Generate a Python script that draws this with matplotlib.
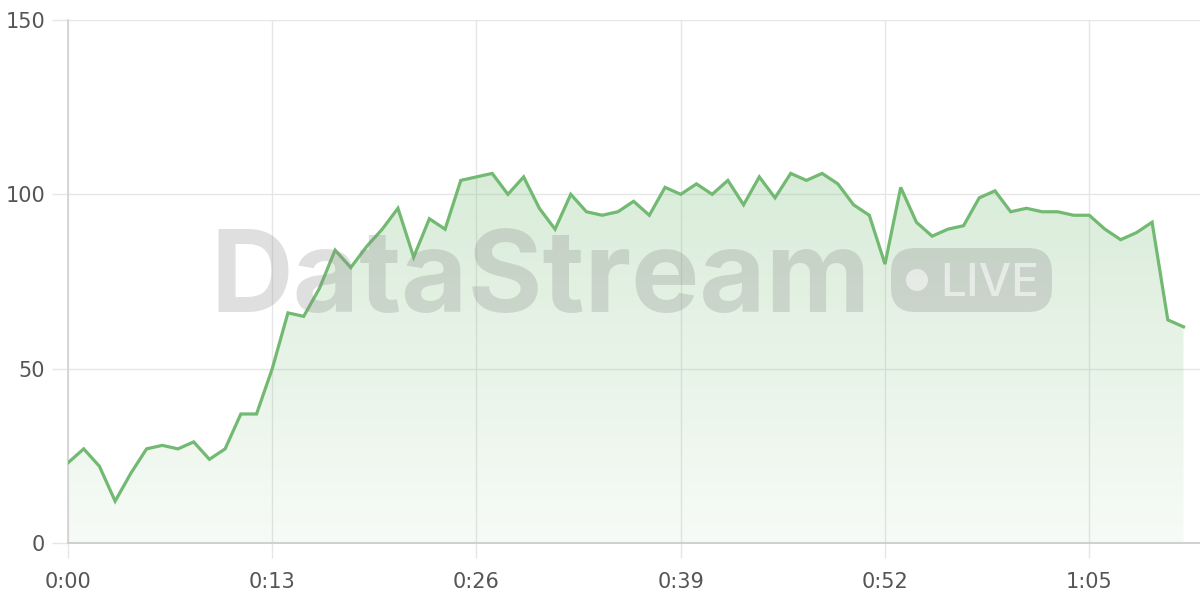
import numpy as np
import matplotlib
matplotlib.use("Agg")
import matplotlib.pyplot as plt
from matplotlib.colors import LinearSegmentedColormap
from matplotlib.patches import FancyBboxPatch, Circle

# one sample per second
values = [23, 27, 22, 12, 20, 27, 28, 27, 29, 24,
          27, 37, 37, 50, 66, 65, 73, 84, 79, 85,
          90, 96, 82, 93, 90, 104, 105, 106, 100, 105,
          96, 90, 100, 95, 94, 95, 98, 94, 102, 100,
          103, 100, 104, 97, 105, 99, 106, 104, 106, 103,
          97, 94, 80, 102, 92, 88, 90, 91, 99, 101,
          95, 96, 95, 95, 94, 94, 90, 87, 89, 92,
          64, 62]
x_ticks = [0, 13, 26, 39, 52, 65]
x_tick_labels = ["0:00", "0:13", "0:26", "0:39", "0:52", "1:05"]
y_ticks = [0, 50, 100, 150]
y_tick_labels = ["0", "50", "100", "150"]

line_color = "#72b972"
grid_color = "#e6e6e6"
text_color = "#555555"

secs = np.arange(len(values))
vals = np.array(values, dtype=float)

fig = plt.figure(figsize=(12, 6), dpi=100)
ax = fig.add_axes([68 / 1200, 57 / 600, 1132 / 1200, 523 / 600])

# gradient fill under the line
fill = ax.fill_between(secs, vals, 0, color="none", lw=0)
cmap = LinearSegmentedColormap.from_list(
    "g", [(0.447, 0.725, 0.447, 0.06), (0.447, 0.725, 0.447, 0.27)])
grad = np.linspace(0, 1, 256).reshape(-1, 1)
img = ax.imshow(grad, cmap=cmap, origin="lower", aspect="auto",
                extent=[0, secs[-1], 0, vals.max()], zorder=1)
img.set_clip_path(fill.get_paths()[0], transform=ax.transData)
ax.set_xlim(0, 72.05)
ax.set_ylim(0, 150)

ax.plot(secs, vals, color=line_color, lw=2.3, zorder=5, solid_joinstyle="miter")

ax.set_xticks(x_ticks)
ax.set_xticklabels(x_tick_labels)
ax.set_yticks(y_ticks)
ax.set_yticklabels(y_tick_labels)
ax.grid(True, color=grid_color, lw=1, zorder=0)
ax.set_axisbelow(True)
ax.tick_params(axis="x", length=11, width=1, color=grid_color, pad=10,
               labelsize=15, labelcolor=text_color)
ax.tick_params(axis="y", length=11.5, width=1, color=grid_color, pad=5,
               labelsize=15, labelcolor=text_color)
for s in ["top", "right"]:
    ax.spines[s].set_visible(False)
ax.spines["left"].set_color("#d4d4d4")
ax.spines["bottom"].set_color("#cccccc")
ax.spines["left"].set_linewidth(1.3)
ax.spines["bottom"].set_linewidth(1.3)

# watermark overlay in pixel coordinates
ov = fig.add_axes([0, 0, 1, 1], zorder=3)
ov.set_xlim(0, 1200)
ov.set_ylim(600, 0)
ov.axis("off")
ov.patch.set_alpha(0)
ov.text(541, 312, "DataStream", ha="center", va="baseline",
        fontsize=82.5, fontweight="bold", family=["Inter", "DejaVu Sans"],
        color="#8a8a8a", alpha=0.27)
badge = FancyBboxPatch((891 + 24, 248 + 24), 161 - 48, 64 - 48,
                       boxstyle="round,pad=24", fc="#8a8a8a", ec="none", alpha=0.28)
ov.add_patch(badge)
ov.add_patch(Circle((917, 280), 11, fc="white", ec="none", alpha=0.55))
ov.text(940, 296, "LIVE", ha="left", va="baseline", fontsize=33,
        fontweight="medium", family=["Inter", "DejaVu Sans"],
        color="white", alpha=0.55)

fig.savefig("out.png", dpi=100)
